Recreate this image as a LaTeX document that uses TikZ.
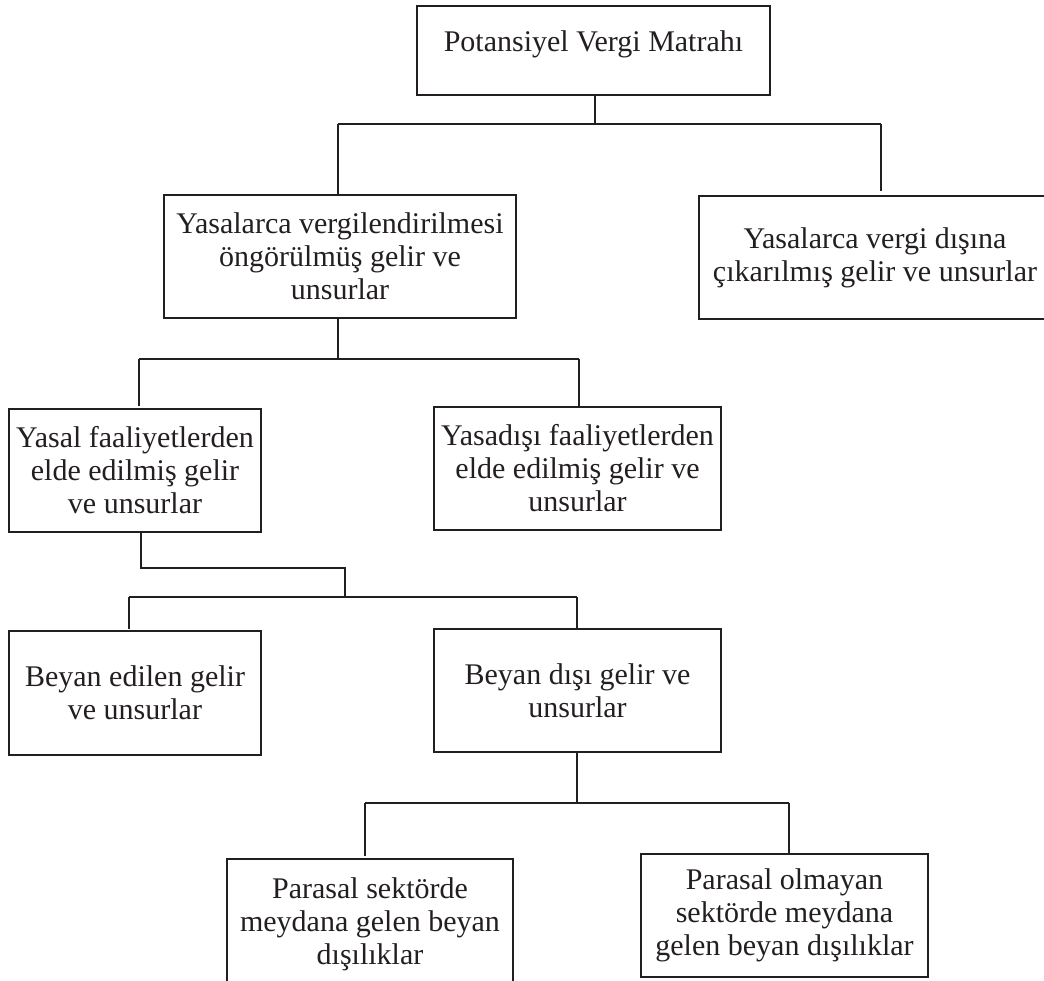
\documentclass[tikz,border=0pt]{standalone}
\usepackage{fontspec}
\setmainfont{Liberation Serif}
\definecolor{ink}{HTML}{231F20}
\tikzset{
  box/.style={draw=ink, line width=1.3pt, inner sep=0pt, outer sep=0pt, align=center,
    text=ink, font=\fontsize{30}{33}\selectfont},
  conn/.style={draw=ink, line width=1.3pt}
}
\begin{document}
\begin{tikzpicture}[x=1pt,y=-1pt]
\useasboundingbox (0,0) rectangle (1044,980);
\clip (0,0) rectangle (1044,980);
% boxes
\node[box, minimum width=353pt, minimum height=89pt, text height=21pt, text depth=19pt] (top) at (593.5,50.5) {Potansiyel Vergi Matrahı};
\node[box, minimum width=352pt, minimum height=123pt] (b2) at (340,256.5) {Yasalarca vergilendirilmesi\\öngörülmüş gelir ve\\unsurlar};
\node[box, minimum width=352pt, minimum height=123pt] (b3) at (875,257.5) {Yasalarca vergi dışına\\çıkarılmış gelir ve unsurlar};
\node[box, minimum width=252pt, minimum height=123pt] (b4) at (135,470.5) {Yasal faaliyetlerden\\elde edilmiş gelir\\ve unsurlar};
\node[box, minimum width=287pt, minimum height=123pt] (b5) at (577.5,468.5) {Yasadışı faaliyetlerden\\elde edilmiş gelir ve\\unsurlar};
\node[box, minimum width=252pt, minimum height=124pt] (b6) at (135,693) {Beyan edilen gelir\\ve unsurlar};
\node[box, minimum width=287pt, minimum height=123pt] (b7) at (577.5,690.5) {Beyan dışı gelir ve\\unsurlar};
\node[box, minimum width=286pt, minimum height=130pt] (b8) at (370,924) {Parasal sektörde\\meydana gelen beyan\\dışılıklar};
\node[box, minimum width=287pt, minimum height=123pt] (b9) at (784.5,915.5) {Parasal olmayan\\sektörde meydana\\gelen beyan dışılıklar};
% junction coordinates
\coordinate (j1) at (595,124);
\coordinate (j1L) at (338,124);
\coordinate (j1R) at (881,124);
\coordinate (e1) at (881,191);
\coordinate (j2) at (338,359);
\coordinate (j2L) at (139,359);
\coordinate (j2R) at (579,359);
\coordinate (e2) at (139,406);
\coordinate (k1) at (141,568);
\coordinate (k2) at (345,568);
\coordinate (k3) at (345,597);
\coordinate (j3L) at (129,597);
\coordinate (j3R) at (577,597);
\coordinate (e3) at (129,629);
\coordinate (j4) at (577,803);
\coordinate (j4L) at (365,803);
\coordinate (j4R) at (789,803);
\coordinate (e4) at (365,856);
\coordinate (e5) at (789,853);
% connectors
\draw[conn] (top.south -| j1) -- (j1);
\draw[conn] (j1L) -- (j1R);
\draw[conn] (j1L) -- (b2.north -| j1L);
\draw[conn] (j1R) -- (e1);
\draw[conn] (b2.south -| j2) -- (j2);
\draw[conn] (j2L) -- (j2R);
\draw[conn] (j2L) -- (e2);
\draw[conn] (j2R) -- (b5.north -| j2R);
\draw[conn] (b4.south -| k1) -- (k1) -- (k2) -- (k3);
\draw[conn] (j3L) -- (j3R);
\draw[conn] (j3L) -- (e3);
\draw[conn] (j3R) -- (b7.north -| j3R);
\draw[conn] (b7.south -| j4) -- (j4);
\draw[conn] (j4L) -- (j4R);
\draw[conn] (j4L) -- (e4);
\draw[conn] (j4R) -- (e5);
\end{tikzpicture}
\end{document}
